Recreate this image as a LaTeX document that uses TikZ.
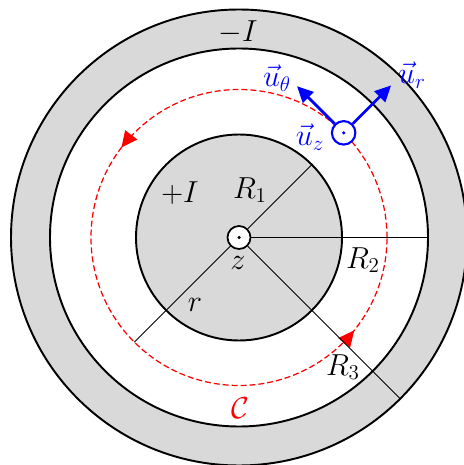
\documentclass[tikz,border=0pt]{standalone}
\usepackage{xcolor}
\usepackage{tikz}
\usetikzlibrary{arrows.meta,positioning,calc,decorations.markings}
\definecolor{shade}{RGB}{217,217,217}
\definecolor{vecblue}{RGB}{0,0,255}
\definecolor{loopred}{RGB}{255,0,0}

\begin{document}
\begin{tikzpicture}[
    conductor/.style={draw=black, line width=1.1pt},
    radline/.style={draw=black, line width=0.6pt},
    pathloop/.style={draw=loopred, line width=0.7pt, dash pattern=on 3.4pt off 1.7pt,
                postaction={decorate}, decoration={markings,
                mark=at position 0.396 with {\arrow[loopred]{Triangle[length=3.2mm,width=3mm]}},
                mark=at position 0.892 with {\arrow[loopred]{Triangle[length=3.2mm,width=3mm]}}}},
    zaxis/.style={draw=black, line width=1pt, fill=white, circle, minimum size=4.6mm, inner sep=0pt},
    unitvec/.style={draw=vecblue, line width=1.2pt, fill=white, circle, minimum size=4.7mm, inner sep=0pt},
    vecarr/.style={-{Triangle[length=3.2mm,width=3mm]}, line width=1.6pt, vecblue},
    lbl/.style={font=\LARGE},
    bluelbl/.style={font=\LARGE, text=vecblue}
]
\useasboundingbox (-4.78,-4.55) rectangle (4.48,4.75);
\coordinate (O) at (0,0);

% conductors
\filldraw[conductor, fill=shade] (O) circle (4.56);
\filldraw[conductor, fill=white] (O) circle (3.78);
\filldraw[conductor, fill=shade] (O) circle (2.06);

% Ampere loop
\draw[pathloop] (O) circle (2.96);

\coordinate (r1end) at (45:2.06);
\coordinate (r2end) at (0:3.78);
\coordinate (r3end) at (-45:4.56);
\coordinate (rend) at (225:2.96);

\node[zaxis] (zc) at (O) {};
\fill (zc.center) circle (0.035);
\draw[radline] (zc) -- (r1end);
\draw[radline] (zc) -- (r2end);
\draw[radline] (zc) -- (r3end);
\draw[radline] (zc) -- (rend);

% local basis
\node[unitvec] (uz) at (45:2.96) {};
\fill[vecblue] (uz.center) circle (0.035);
\coordinate (urtip) at (45:4.3);
\coordinate (uttip) at ($(uz)+(135:1.32)$);
\draw[vecarr] (uz) -- (urtip);
\draw[vecarr] (uz) -- (uttip);

\node[lbl] (R1lbl) at (0.22,0.95) {$R_1$};
\node[lbl] (R2lbl) at (2.48,-0.45) {$R_2$};
\node[lbl] (R3lbl) at (2.08,-2.59) {$R_3$};
\node[lbl] (rlbl) at (-0.88,-1.35) {$r$};
\node[lbl] (zlbl) at (-0.02,-0.51) {$z$};
\node[lbl] (Iin) at (-1.18,0.89) {$+I$};
\node[lbl] (Iout) at (-0.02,4.11) {$-I$};
\node[lbl, text=loopred] (Clbl) at (0.02,-3.41) {$\mathcal{C}$};
\node[bluelbl] (utlbl) at (0.76,3.19) {$\vec{u}_\theta$};
\node[bluelbl] (urlbl) at (3.46,3.25) {$\vec{u}_r$};
\node[bluelbl] (uzlbl) at (1.42,2.01) {$\vec{u}_z$};
\end{tikzpicture}
\end{document}
